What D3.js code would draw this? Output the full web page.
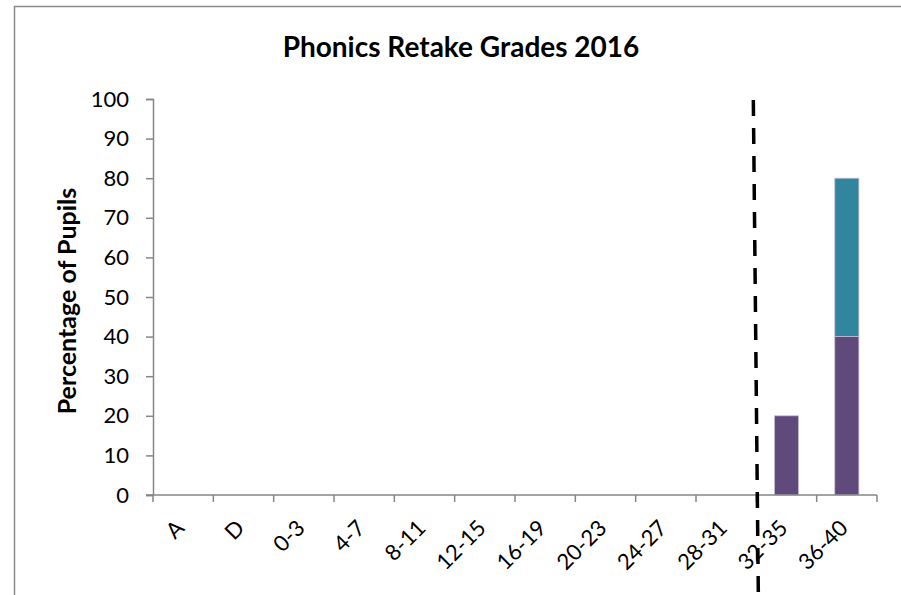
<!DOCTYPE html>
<html>
<head>
<meta charset="utf-8">
<script src="https://cdn.jsdelivr.net/npm/d3@7"></script>
<style>
  body { margin: 0; background: #fff; }
  text { font-family: Lato, "Open Sans", sans-serif; }
</style>
</head>
<body>
<div id="chart"></div>
<script>
const categories = ["A", "D", "0-3", "4-7", "8-11", "12-15", "16-19", "20-23", "24-27", "28-31", "32-35", "36-40"];
const purpleValues = [0, 0, 0, 0, 0, 0, 0, 0, 0, 0, 20, 40];
const tealValues = [0, 0, 0, 0, 0, 0, 0, 0, 0, 0, 0, 40];
const yTicks = [0, 10, 20, 30, 40, 50, 60, 70, 80, 90, 100];
const passMarkAfter = "28-31";

const width = 901;
const height = 595;
const margin = { top: 99, right: 24, bottom: 100, left: 153 };

const svg = d3.select("#chart")
  .append("svg")
  .attr("width", width).attr("height", height);

// chart frame
svg.append("rect")
  .attr("x", 14.5).attr("y", 6.5)
  .attr("width", width).attr("height", height)
  .attr("fill", "none").attr("stroke", "#8c8c8c").attr("stroke-width", 1.5);

const x = d3.scaleBand()
  .domain(categories)
  .range([margin.left, width - margin.right])
  .paddingInner(0.6).paddingOuter(0.3);

const y = d3.scaleLinear()
  .domain([0, 100])
  .range([height - margin.bottom, margin.top]);

const stackData = categories.map((c, i) => ({ cat: c, purple: purpleValues[i], teal: tealValues[i] }));
const series = d3.stack().keys(["purple", "teal"])(stackData);
const colors = { purple: "#604a7b", teal: "#31859c" };

svg.append("g")
  .selectAll("g")
  .data(series)
  .join("g")
  .attr("fill", d => colors[d.key])
  .selectAll("rect")
  .data(d => d.filter(p => p[1] > p[0]))
  .join("rect")
  .attr("x", d => x(d.data.cat))
  .attr("y", d => y(d[1]))
  .attr("width", x.bandwidth())
  .attr("height", d => y(d[0]) - y(d[1]))
  .attr("stroke", "#c9bfd6").attr("stroke-width", 0.8);

// y axis
const yAxis = svg.append("g")
  .attr("transform", `translate(${margin.left},0)`)
  .call(d3.axisLeft(y).tickValues(yTicks).tickSize(7).tickPadding(17));
yAxis.selectAll("line,path").attr("stroke", "#868686").attr("stroke-width", 1.5);
yAxis.selectAll("text").attr("font-size", 22).attr("fill", "#000")
  .style("font-family", "Lato, 'Open Sans', sans-serif");

// x axis with ticks at band edges
const step = x.step();
const edges = d3.range(categories.length + 1).map(i => margin.left + i * (width - margin.right - margin.left) / categories.length);
const xg = svg.append("g");
xg.append("line")
  .attr("x1", margin.left - 7).attr("x2", width - margin.right)
  .attr("y1", y(0)).attr("y2", y(0))
  .attr("stroke", "#868686").attr("stroke-width", 1.5);
xg.selectAll(".tick")
  .data(edges)
  .join("line")
  .attr("x1", d => d).attr("x2", d => d)
  .attr("y1", y(0)).attr("y2", y(0) + 7)
  .attr("stroke", "#868686").attr("stroke-width", 1.5);
xg.selectAll(".lbl")
  .data(categories)
  .join("text")
  .attr("transform", d => `translate(${x(d) + x.bandwidth() / 2 - 3},${y(0) + 29}) rotate(-45)`)
  .attr("text-anchor", "end")
  .attr("dy", "0.35em")
  .attr("font-size", 22)
  .text(d => d);

// pass mark dashed line
const passX = x(passMarkAfter) + x.bandwidth() + (step - x.bandwidth()) / 2;
svg.append("line")
  .attr("x1", passX - 3).attr("y1", 100)
  .attr("x2", passX + 2).attr("y2", height)
  .attr("stroke", "#000").attr("stroke-width", 3.5)
  .attr("stroke-dasharray", "16,12");

// titles
svg.append("text")
  .attr("x", 461).attr("y", 57)
  .attr("text-anchor", "middle")
  .attr("font-size", 28).attr("font-weight", "bold")
  .text("Phonics Retake Grades 2016");

svg.append("text")
  .attr("transform", `translate(76,${(y(0) + y(100)) / 2 + 4}) rotate(-90)`)
  .attr("text-anchor", "middle")
  .attr("font-size", 25).attr("font-weight", "bold")
  .text("Percentage of Pupils");
</script>
</body>
</html>
